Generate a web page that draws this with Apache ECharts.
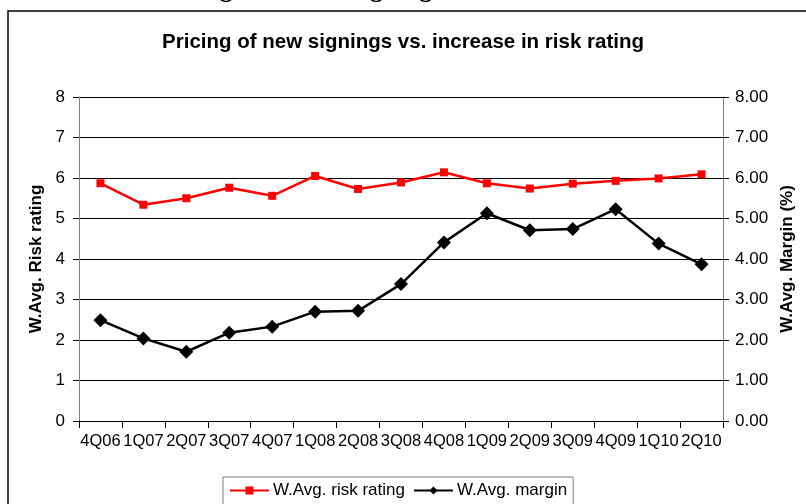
<!DOCTYPE html>
<html>
<head>
<meta charset="utf-8">
<script src="https://cdn.jsdelivr.net/npm/echarts@6/dist/echarts.min.js"></script>
<style>
  html, body { margin: 0; padding: 0; background: #fff; }
  #app { width: 806px; height: 504px; }
</style>
</head>
<body>
<div id="app"></div>
<script>
var quarters = ['4Q06', '1Q07', '2Q07', '3Q07', '4Q07', '1Q08', '2Q08', '3Q08',
  '4Q08', '1Q09', '2Q09', '3Q09', '4Q09', '1Q10', '2Q10'];
var riskRating = [5.87, 5.34, 5.50, 5.76, 5.56, 6.05, 5.73, 5.89,
  6.14, 5.87, 5.74, 5.86, 5.93, 5.99, 6.09];
var margin = [2.49, 2.04, 1.71, 2.18, 2.33, 2.70, 2.72, 3.38,
  4.41, 5.13, 4.71, 4.74, 5.23, 4.38, 3.87];

var font = 'Liberation Sans, Arial, sans-serif';

window.onload = function () {
  var myChart = echarts.init(document.getElementById('app'));

  myChart.setOption({
    backgroundColor: '#fff',
    animation: false,
    title: {
      text: 'Pricing of new signings vs. increase in risk rating',
      left: 'center',
      top: 32,
      padding: 0,
      textStyle: { fontFamily: font, fontSize: 20.5, fontWeight: 'bold', color: '#000' }
    },
    graphic: [
      {
        // frame of the chart, runs off the right and bottom of the picture
        type: 'rect',
        shape: { x: 8, y: 11, width: 900, height: 600 },
        style: { fill: 'none', stroke: '#000', lineWidth: 1.5 },
        silent: true
      },
      {
        // page heading above the chart, only its descenders show
        type: 'text',
        left: 152,
        top: -22.5,
        style: {
          text: 'Pricing of all new signings',
          font: 'bold 26px "Liberation Serif", "Times New Roman", serif',
          fill: '#000'
        },
        silent: true
      }
    ],
    legend: {
      left: 223,
      top: 477,
      itemWidth: 39,
      itemHeight: 10,
      itemGap: 8,
      padding: [5, 6, 10, 6],
      borderColor: '#808080',
      borderWidth: 1,
      textStyle: { fontFamily: font, fontSize: 17, color: '#000', padding: [0, 0, 0, -1] },
      data: ['W.Avg. risk rating', 'W.Avg. margin']
    },
    grid: { left: 79, right: 83, top: 97, bottom: 83 },
    xAxis: {
      type: 'category',
      data: quarters,
      boundaryGap: true,
      axisLine: { lineStyle: { color: '#000', width: 1 } },
      axisTick: { show: true, length: 7, lineStyle: { color: '#000' } },
      axisLabel: { fontFamily: font, fontSize: 16.5, color: '#000', margin: 12, interval: 0 },
      splitLine: { show: false }
    },
    yAxis: [
      {
        type: 'value',
        min: 0,
        max: 8,
        interval: 1,
        name: 'W.Avg. Risk rating',
        nameLocation: 'middle',
        nameRotate: 90,
        nameGap: 32,
        nameTextStyle: { fontFamily: font, fontSize: 17, fontWeight: 'bold', color: '#000' },
        axisLine: { show: true, lineStyle: { color: '#808080' } },
        axisTick: { show: true, length: 6, lineStyle: { color: '#000' } },
        axisLabel: { fontFamily: font, fontSize: 17, color: '#000', margin: 14 },
        splitLine: { show: true, lineStyle: { color: '#000', width: 1 } }
      },
      {
        type: 'value',
        min: 0,
        max: 8,
        interval: 1,
        position: 'right',
        name: 'W.Avg. Margin (%)',
        nameLocation: 'middle',
        nameRotate: 90,
        nameGap: 56,
        nameTextStyle: { fontFamily: font, fontSize: 17, fontWeight: 'bold', color: '#000' },
        axisLine: { show: true, lineStyle: { color: '#808080' } },
        axisTick: { show: true, length: 6, lineStyle: { color: '#000' } },
        axisLabel: {
          fontFamily: font, fontSize: 17, color: '#000', margin: 12,
          formatter: function (v) { return v.toFixed(2); }
        },
        splitLine: { show: false }
      }
    ],
    series: [
      {
        name: 'W.Avg. risk rating',
        type: 'line',
        yAxisIndex: 0,
        data: riskRating,
        symbol: 'rect',
        symbolSize: 8,
        lineStyle: { color: '#ff0000', width: 2.5 },
        itemStyle: { color: '#ff0000' }
      },
      {
        name: 'W.Avg. margin',
        type: 'line',
        yAxisIndex: 1,
        data: margin,
        symbol: 'diamond',
        symbolSize: 14,
        lineStyle: { color: '#000', width: 2.5 },
        itemStyle: { color: '#000' }
      }
    ]
  });
};
</script>
</body>
</html>
